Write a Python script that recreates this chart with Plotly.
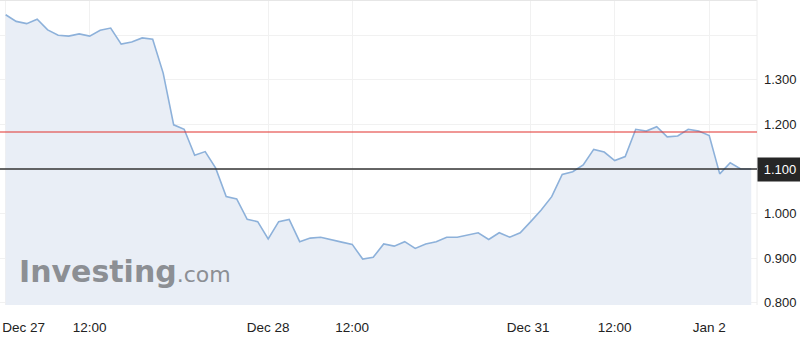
import plotly.graph_objects as go

# ---- data ----
values = [1.446, 1.431, 1.426, 1.436, 1.412, 1.400, 1.398, 1.403, 1.398, 1.411,
          1.416, 1.380, 1.385, 1.394, 1.391, 1.315, 1.199, 1.189, 1.131, 1.139,
          1.102, 1.038, 1.033, 0.987, 0.982, 0.943, 0.982, 0.987, 0.937, 0.945,
          0.947, 0.941, 0.936, 0.931, 0.898, 0.902, 0.932, 0.927, 0.937, 0.922,
          0.932, 0.937, 0.947, 0.947, 0.952, 0.957, 0.942, 0.957, 0.947, 0.957,
          0.982, 1.008, 1.038, 1.088, 1.094, 1.109, 1.144, 1.138, 1.119, 1.128,
          1.189, 1.185, 1.195, 1.172, 1.174, 1.189, 1.185, 1.175, 1.089, 1.114,
          1.100, 1.100]
points = list(range(len(values)))

x_tick_pos = [1.7, 8, 25, 33, 49.75, 58, 67]
x_tick_text = ["Dec 27", "12:00", "Dec 28", "12:00", "Dec 31", "12:00", "Jan 2"]
x_grid_pos = [0, 8, 25, 33, 50, 58, 67]

y_tick_vals = [0.8, 0.9, 1.0, 1.1, 1.2, 1.3]
y_tick_text = ["0.800", "0.900", "1.000", "1.100", "1.200", "1.300"]
y_extra_grid = [1.4]

red_level = 1.183
last_value = values[-1]
last_label = "1.100"

# ---- figure ----
fig = go.Figure()
fig.add_trace(go.Scatter(
    x=points, y=values, mode="lines",
    line=dict(color="#8db1da", width=1.6),
    fill="tozeroy", fillcolor="#e9eef6",
    hoverinfo="skip", showlegend=False,
))

font_main = "Liberation Sans, Arial, sans-serif"

fig.update_layout(
    width=800, height=337,
    margin=dict(l=0, r=43, t=0, b=32),
    paper_bgcolor="white", plot_bgcolor="white",
    showlegend=False,
    font=dict(family=font_main, size=13.5, color="#222222"),
    xaxis=dict(
        range=[-0.54, 71.55],
        tickmode="array", tickvals=x_tick_pos, ticktext=x_tick_text,
        showgrid=False, zeroline=False, showline=False, ticks="",
        ticklabelstandoff=12,
        minor=dict(tickmode="array", tickvals=x_grid_pos, showgrid=True,
                   gridcolor="#f1f1f1", gridwidth=1, ticks=""),
        fixedrange=True,
    ),
    yaxis=dict(
        side="right",
        range=[0.795, 1.479],
        tickmode="array", tickvals=y_tick_vals, ticktext=y_tick_text,
        showgrid=True, gridcolor="#f1f1f1", gridwidth=1,
        zeroline=False, showline=False, ticks="",
        ticklabelstandoff=6,
        tickfont=dict(size=13),
        minor=dict(tickmode="array", tickvals=y_extra_grid, showgrid=True,
                   gridcolor="#f1f1f1", gridwidth=1, ticks=""),
        fixedrange=True,
    ),
)

# frame lines (top and right edge)
fig.add_shape(type="line", xref="paper", yref="paper", x0=0, x1=1, y0=1, y1=1,
              line=dict(color="#e6e6e6", width=2), layer="above")
fig.add_shape(type="line", xref="paper", yref="paper", x0=1, x1=1, y0=0, y1=1,
              line=dict(color="#ececec", width=1), layer="above")

# reference lines
fig.add_shape(type="line", xref="paper", yref="y", x0=0, x1=1,
              y0=red_level, y1=red_level,
              line=dict(color="#e2302c", width=1.2), layer="above")
fig.add_shape(type="line", xref="paper", yref="y", x0=0, x1=1,
              y0=last_value, y1=last_value,
              line=dict(color="#333333", width=1.6), layer="above")

# current value box
fig.add_annotation(
    xref="paper", yref="y", x=1, y=last_value, xanchor="left", yanchor="middle",
    text=last_label, showarrow=False,
    font=dict(family=font_main, size=13, color="white"),
    bgcolor="#262626", borderpad=4, width=36, align="center",
)

# watermark
fig.add_annotation(
    xref="paper", yref="paper", x=0.022, y=0.045, xanchor="left", yanchor="bottom",
    text="<b>Investing</b><span style='font-size:22px;font-weight:normal'>.com</span>",
    showarrow=False,
    font=dict(family="DejaVu Sans, sans-serif", size=30, color="#8c8f94"),
)

fig.write_html("out.html")
